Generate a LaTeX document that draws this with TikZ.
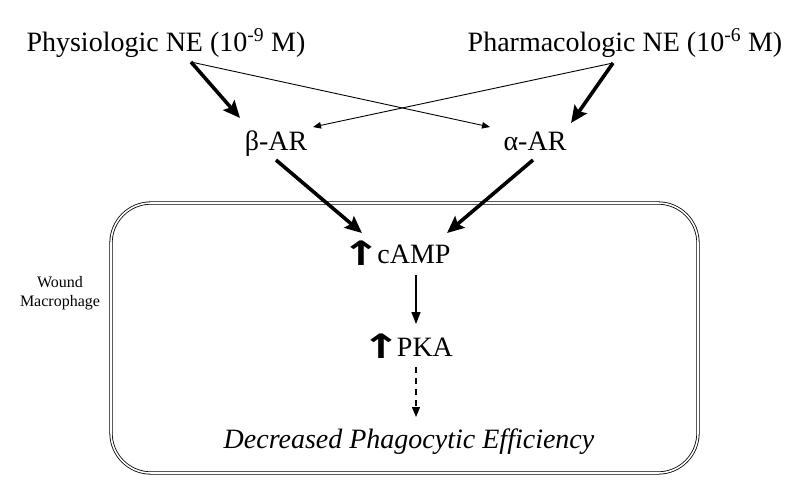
\documentclass[tikz,border=0pt]{standalone}
\usepackage{fontspec}
\setmainfont{Liberation Serif}
\newfontfamily\arrowfont{DejaVu Sans}
\usetikzlibrary{arrows.meta}
\newcommand{\uparr}{\raisebox{-2pt}{\scalebox{1.7}[1.2]{\arrowfont\bfseries ↑}}\hspace{-4pt}}
\begin{document}
\begin{tikzpicture}[x=1pt,y=-1pt,
  lbl/.style={font=\fontsize{28}{32}\selectfont, inner sep=0pt, anchor=base},
  small/.style={font=\fontsize{16}{19}\selectfont, inner sep=0pt, align=center},
  thickarr/.style={line width=3.6pt, -{Stealth[length=17pt,width=15pt,inset=3pt]}},
  thinarr/.style={line width=0.9pt, -{Triangle[length=8pt,width=6.5pt]}},
  midarr/.style={line width=1.5pt, -{Triangle[length=12pt,width=9pt]}},
  dasharr/.style={line width=1.3pt, dash pattern=on 6pt off 5pt, -{Triangle[length=10pt,width=8pt]}},
  cellbox/.style={draw, line width=0.8pt, double, double distance=1.6pt, rounded corners=40pt}]
\useasboundingbox (0,0) rectangle (800,491);
\fill[white] (0,0) rectangle (800,491);

\draw[cellbox] (111,203) rectangle (698,473);

\node[lbl] (phys) at (166,51) {Physiologic NE (10\textsuperscript{-9} M)};
\node[lbl] (pharm) at (625,51) {Pharmacologic NE (10\textsuperscript{-6} M)};
\node[lbl] (beta) at (276,150) {β-AR};
\node[lbl] (alpha) at (535,150) {α-AR};
\node[lbl] (camp) at (396,263) {\uparr cAMP};
\node[lbl] (pka) at (407,356) {\uparr PKA};
\node[lbl] (eff) at (409,448) {\itshape Decreased Phagocytic Efficiency};
\node[small] (wound) at (60,293) {Wound\\Macrophage};

\coordinate (physout) at (191,62);
\coordinate (pharmout) at (613,63);
\coordinate (betain) at (240,118);
\coordinate (betainthin) at (313,127);
\coordinate (alphain) at (571,123);
\coordinate (alphainthin) at (490,127);
\coordinate (betaout) at (276,160);
\coordinate (alphaout) at (533,160);
\coordinate (campinl) at (362,233);
\coordinate (campinr) at (447,233);
\coordinate (campout) at (416,275);
\coordinate (pkain) at (416,324);
\coordinate (pkaout) at (416,367);
\coordinate (effin) at (416,417);

\draw[thickarr] (physout) -- (betain);
\draw[thinarr] (physout) -- (alphainthin);
\draw[thinarr] (pharmout) -- (betainthin);
\draw[thickarr] (pharmout) -- (alphain);
\draw[thickarr] (betaout) -- (campinl);
\draw[thickarr] (alphaout) -- (campinr);
\draw[midarr] (campout) -- (pkain);
\draw[dasharr] (pkaout) -- (effin);
\end{tikzpicture}
\end{document}
